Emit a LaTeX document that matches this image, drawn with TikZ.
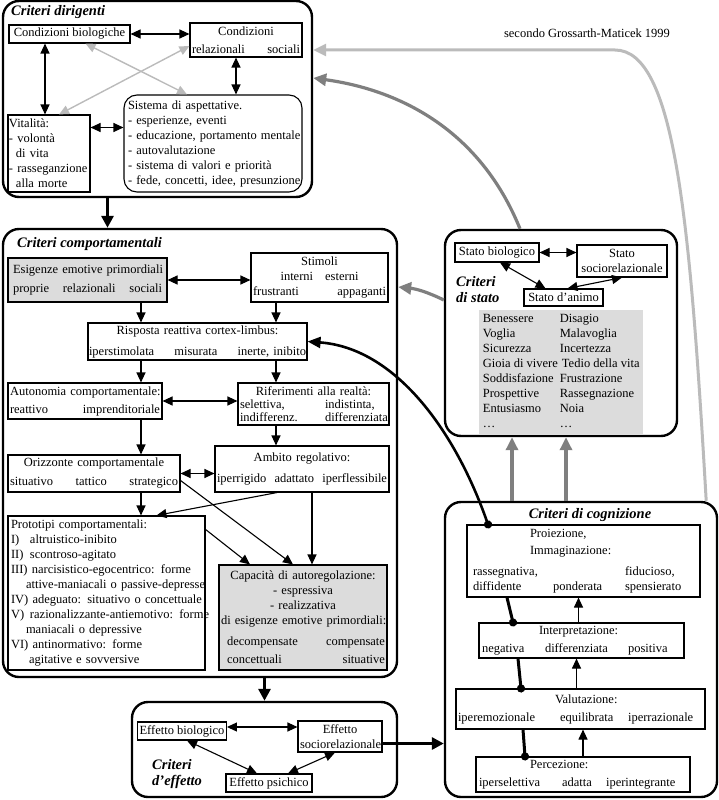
\documentclass[tikz,border=0pt]{standalone}
\usepackage{fontspec}
\setmainfont{Liberation Serif}
\usetikzlibrary{arrows.meta}
\definecolor{boxgrey}{HTML}{DCDCDC}
\definecolor{lightline}{HTML}{BBBBBB}
\definecolor{darkline}{HTML}{7F7F7F}

\begin{document}
\begin{tikzpicture}[
    x=1pt, y=-1pt,
    font=\fontsize{12.5}{15}\selectfont,
    group/.style={rectangle, draw=black, line width=2.4pt, rounded corners=16pt},
    grouptitle/.style={font=\fontsize{14.5}{16.5}\selectfont\bfseries\itshape, inner sep=0pt, align=left},
    box/.style={rectangle, draw=black, line width=1.1pt, fill=white, align=center, inner xsep=2pt, inner ysep=1pt},
    lbox/.style={box, align=left},
    greybox/.style={box, fill=boxgrey},
    arr/.style={-{Triangle[length=10pt,width=9pt]}, line width=1.1pt},
    darr/.style={{Triangle[length=10pt,width=9pt]}-{Triangle[length=10pt,width=9pt]}, line width=1.1pt},
    ldarr/.style={darr, draw=lightline, line width=1.4pt},
    bigarr/.style={-{Triangle[length=12pt,width=12pt]}, line width=3pt},
    greyarr/.style={-{Triangle[length=13pt,width=12pt]}, draw=darkline, line width=3.2pt},
    lgreyarr/.style={greyarr, draw=lightline, line width=3pt},
    dotline/.style={{Circle[length=8pt]}-, line width=3pt, shorten <=-4pt},
    dotarr/.style={{Circle[length=8pt]}-{Triangle[length=13pt,width=11pt]}, line width=2.6pt, shorten <=-4pt}
]
\useasboundingbox (0,0) rectangle (719,800);

% frames
\node[group, minimum width=309pt, minimum height=196pt] (dir) at (157.5,99) {};
\node[group, minimum width=394pt, minimum height=448pt] (comp) at (200,453) {};
\node[group, minimum width=265pt, minimum height=95pt] (eff) at (264.5,749.5) {};
\node[group, minimum width=232pt, minimum height=206pt] (stato) at (561,333) {};
\node[group, minimum width=272pt, minimum height=295pt] (cog) at (581,649.5) {};

\node[grouptitle, anchor=north west] (tdir) at (11,5) {Criteri dirigenti};
\node[grouptitle, anchor=north west] (tcomp) at (17,237) {Criteri comportamentali};
\node[grouptitle, anchor=north west] (teff) at (152,759) {Criteri\\d’effetto};
\node[grouptitle, anchor=north west] (tstato) at (456,276) {Criteri\\di stato};
\node[grouptitle] (tcog) at (590,515) {Criteri di cognizione};
\node (fonte) at (587,33) {secondo Grossarth-Maticek 1999};

% criteri dirigenti
\node[box, minimum width=121pt, minimum height=18pt] (cbio) at (69.5,34) {Condizioni biologiche};
\node[box, text width=108pt, minimum height=34pt] (crel) at (246,40) {Condizioni\\[3pt]relazionali\hfill sociali};
\node[lbox, inner xsep=1pt, text width=80pt, minimum height=77pt] (vita) at (49,153.5)
    {Vitalità:\\- volontà\\\hspace*{7pt}di vita\\\mbox{- rasseganzione}\\\hspace*{7pt}alla morte};
\node[lbox, rounded corners=13pt, inner xsep=4pt, text width=170pt, minimum height=97pt] (sist) at (213,143.5)
    {Sistema di aspettative.\\- esperienze, eventi\\\mbox{- educazione, portamento mentale}\\- autovalutazione\\- sistema di valori e priorità\\\mbox{- fede, concetti, idee, presunzione}};

\draw[darr] (cbio.east) -- (cbio.east -| crel.west);
\draw[darr] ([xshift=-4pt]vita.north) -- ([xshift=-4pt]vita.north |- cbio.south);
\draw[darr] ([xshift=-10pt]crel.south) -- ([xshift=-10pt]crel.south |- sist.north);
\draw[darr] ([yshift=26pt]vita.east) -- ([yshift=26pt]vita.east -| sist.west);
\draw[ldarr] ([xshift=16pt]cbio.south) -- ([xshift=-26pt]sist.north);
\draw[ldarr] ([yshift=-6pt]crel.west) -- ([xshift=10pt]vita.north);

% criteri comportamentali
\coordinate (colL) at (141,0);
\coordinate (colR) at (276,0);
\node[greybox, inner xsep=5pt, text width=149pt, minimum height=44pt] (esig) at (87.5,280)
    {\mbox{Esigenze emotive primordiali}\\[4pt]proprie\hfill relazionali\hfill sociali};
\node[box, text width=133pt, minimum height=49pt] (stim) at (319.5,277.5)
    {Stimoli\\interni\hspace{12pt}esterni\\frustranti\hfill appaganti};
\node[box, inner xsep=1pt, text width=217pt, minimum height=37pt] (risp) at (197.5,341.5)
    {Risposta reattiva cortex-limbus:\\[6pt]iperstimolata\hfill misurata\hfill inerte, inibito};
\node[box, text width=150pt, minimum height=36pt] (auto) at (85,401)
    {\mbox{Autonomia comportamentale:}\\[3pt]reattivo\hfill imprenditoriale\hspace*{5pt}};
\node[box, text width=147pt, minimum height=42pt] (rif) at (313.5,404)
    {Riferimenti alla realtà:\\[-2pt]selettiva,\hfill\makebox[62pt][l]{indistinta,}\\[-2pt]indifferenz.\hfill\makebox[62pt][l]{differenziata}};
\node[box, text width=168pt, minimum height=37pt] (oriz) at (94,473.5)
    {Orizzonte comportamentale\\[4pt]situativo\hfill tattico\hfill strategico};
\node[box, text width=170pt, minimum height=46pt] (amb) at (302,469)
    {Ambito regolativo:\\[6pt]iperrigido\hfill adattato\hfill iperflessibile};
\node[lbox, inner xsep=3pt, text width=191pt, minimum height=154pt] (proto) at (106.5,593)
    {Prototipi comportamentali:\\
     \makebox[19pt][l]{I)}altruistico-inibito\\
     \makebox[19pt][l]{II)}scontroso-agitato\\
     \mbox{III)~narcisistico-egocentrico: forme}\\
     \mbox{\hspace*{15pt}attive-maniacali o passive-depresse}\\
     \mbox{IV)~adeguato: situativo o concettuale}\\
     \mbox{\makebox[19pt][l]{V)}razionalizzante-antiemotivo: forme}\\
     \hspace*{15pt}maniacali o depressive\\
     VI)~antinormativo: forme\\
     \hspace*{18pt}agitative e sovversive};
\node[greybox, text width=164pt, minimum height=105pt] (cap) at (303,617.5)
    {Capacità di autoregolazione:\\- espressiva\\- realizzativa\\\mbox{di esigenze emotive primordiali:}\\[6pt]
     \hspace*{6pt}decompensate\hfill compensate\hspace*{3pt}\\[3pt]\hspace*{6pt}concettuali\hfill situative\hspace*{7pt}};

\draw[darr] (esig.east) -- (esig.east -| stim.west);
\draw[arr] (esig.south -| colL) -- (risp.north -| colL);
\draw[arr] (stim.south -| colR) -- (risp.north -| colR);
\draw[arr] (risp.south -| colL) -- (auto.north -| colL);
\draw[arr] (risp.south -| colR) -- (rif.north -| colR);
\draw[darr] (auto.east) -- (auto.east -| rif.west);
\draw[arr] (auto.south -| colL) -- (oriz.north -| colL);
\draw[arr] (rif.south -| colR) -- (amb.north -| colR);
\draw[darr] (oriz.east) -- (oriz.east -| amb.west);
\draw[arr] (oriz.south -| colL) -- (proto.north -| colL);
\draw[arr] ([xshift=-25pt]amb.south) -- ([xshift=50pt]proto.north);
\draw[arr] ([xshift=10pt]amb.south) -- ([xshift=10pt]amb.south |- cap.north);
\draw[arr] ([yshift=-7pt]oriz.east) -- ([xshift=-10pt]cap.north);
\draw[arr] ([yshift=-14pt]proto.north east) -- ([xshift=-53pt]cap.north);

% criteri d'effetto
\node[box, minimum width=88pt, minimum height=18pt] (ebio) at (182,731) {Effetto biologico};
\node[box, text width=80pt, minimum height=31pt] (esoc) at (340,736.5) {Effetto\\\mbox{sociorelazionale}};
\node[box, minimum width=86pt, minimum height=18pt] (epsi) at (269,783) {Effetto psichico};
\draw[darr] ([yshift=4pt]ebio.east) -- ([yshift=4pt]ebio.east -| esoc.west);
\draw[darr] ([xshift=5pt]ebio.south) -- ([xshift=-12pt]epsi.north);
\draw[darr] ([xshift=19pt]epsi.north) -- ([xshift=-5pt]esoc.south);

% criteri di stato
\node[box, minimum width=84pt, minimum height=19pt] (sbio) at (497,252.5) {Stato biologico};
\node[box, text width=86pt, minimum height=32pt] (ssoc) at (622,261) {Stato\\\mbox{sociorelazionale}};
\node[box, minimum width=79pt, minimum height=17pt] (sani) at (563.5,297.5) {Stato d’animo};
\node[fill=boxgrey, minimum width=164pt, minimum height=121pt, inner sep=2pt, anchor=north west] (umore) at (479,310)
    {\begin{tabular}{@{}p{77pt}@{}l@{}}
     Benessere & Disagio\\
     Voglia & Malavoglia\\
     Sicurezza & Incertezza\\
     Gioia di vivere & \,Tedio della vita\\
     Soddisfazione & Frustrazione\\
     Prospettive & Rassegnazione\\
     Entusiasmo & Noia\\
     … & …
     \end{tabular}};
\draw[darr] (sbio.east) -- (sbio.east -| ssoc.west);
\draw[darr] ([xshift=3pt]sbio.south) -- ([xshift=-18pt]sani.north);
\draw[darr] ([xshift=4pt]sani.north) -- (ssoc.south);

% criteri di cognizione
\node[lbox, inner xsep=6pt, text width=221pt, minimum height=72pt] (proi) at (583.5,561)
    {\hspace*{57pt}Proiezione,\\[2pt]\hspace*{57pt}Immaginazione:\\[6pt]
     \makebox[80pt][l]{rassegnativa,}\hspace*{72pt}fiducioso,\\
     \makebox[80pt][l]{diffidente}\makebox[72pt][l]{ponderata}spensierato};
\node[lbox, inner xsep=3pt, text width=199pt, minimum height=35pt] (interp) at (581.5,640.5)
    {\hspace*{57pt}Interpretazione:\\[3pt]\makebox[63pt][l]{negativa}\makebox[83pt][l]{differenziata}positiva};
\node[lbox, text width=245pt, minimum height=40pt] (valu) at (580.5,709)
    {\hspace*{97pt}Valutazione:\\[3pt]\makebox[102pt][l]{iperemozionale}\makebox[68pt][l]{equilibrata}iperrazionale};
\node[lbox, inner xsep=3pt, text width=208pt, minimum height=35pt] (perc) at (583,774.5)
    {\hspace*{51pt}Percezione:\\[3pt]\makebox[83pt][l]{iperselettiva}\makebox[44pt][l]{adatta}iperintegrante};

\draw[arr] (perc.north) -- (perc.north |- valu.south);
\draw[arr] ([xshift=-4pt]valu.north) -- ([xshift=-4pt]valu.north |- interp.south);
\draw[arr] ([xshift=-3pt]interp.north) -- ([xshift=-3pt]interp.north |- proi.south);
\draw[dotline] ([xshift=-58pt]perc.north) -- ([xshift=-57.5pt]valu.south);
\draw[dotline] ([xshift=-59.5pt]valu.north) -- ([xshift=-63.5pt]interp.south);
\draw[dotline] ([xshift=-68.5pt]interp.north) -- ([xshift=-76.5pt]proi.south);
\draw[dotarr] ([xshift=-95.5pt]proi.north) .. controls (455,430) and (395,348) .. (risp.east);

% links between the groups
\coordinate (colA) at (512,0);
\coordinate (colB) at (566,0);
\coordinate (grturn) at (615,50);
\draw[bigarr] ([xshift=-50pt]dir.south) -- ([xshift=-50pt]dir.south |- comp.north);
\draw[bigarr] (eff.north |- comp.south) -- (eff.north);
\draw[bigarr] ([yshift=-7pt]esoc.east) -- ([yshift=-7pt]esoc.east -| cog.west);
\draw[greyarr] (cog.north -| colA) -- (stato.south -| colA);
\draw[greyarr] (cog.north -| colB) -- (stato.south -| colB);
\draw[greyarr] ([yshift=33pt]stato.west) to[bend right=10] ([yshift=166pt]comp.east);
\draw[greyarr] ([xshift=-41pt]stato.north) .. controls (480,130) and (400,90) .. ([yshift=21pt]dir.east);
\draw[lgreyarr] ([xshift=-12pt]cog.north east) .. controls (690,220) and (675,50) .. (grturn) -- ([yshift=49pt]dir.east);

\end{tikzpicture}
\end{document}
